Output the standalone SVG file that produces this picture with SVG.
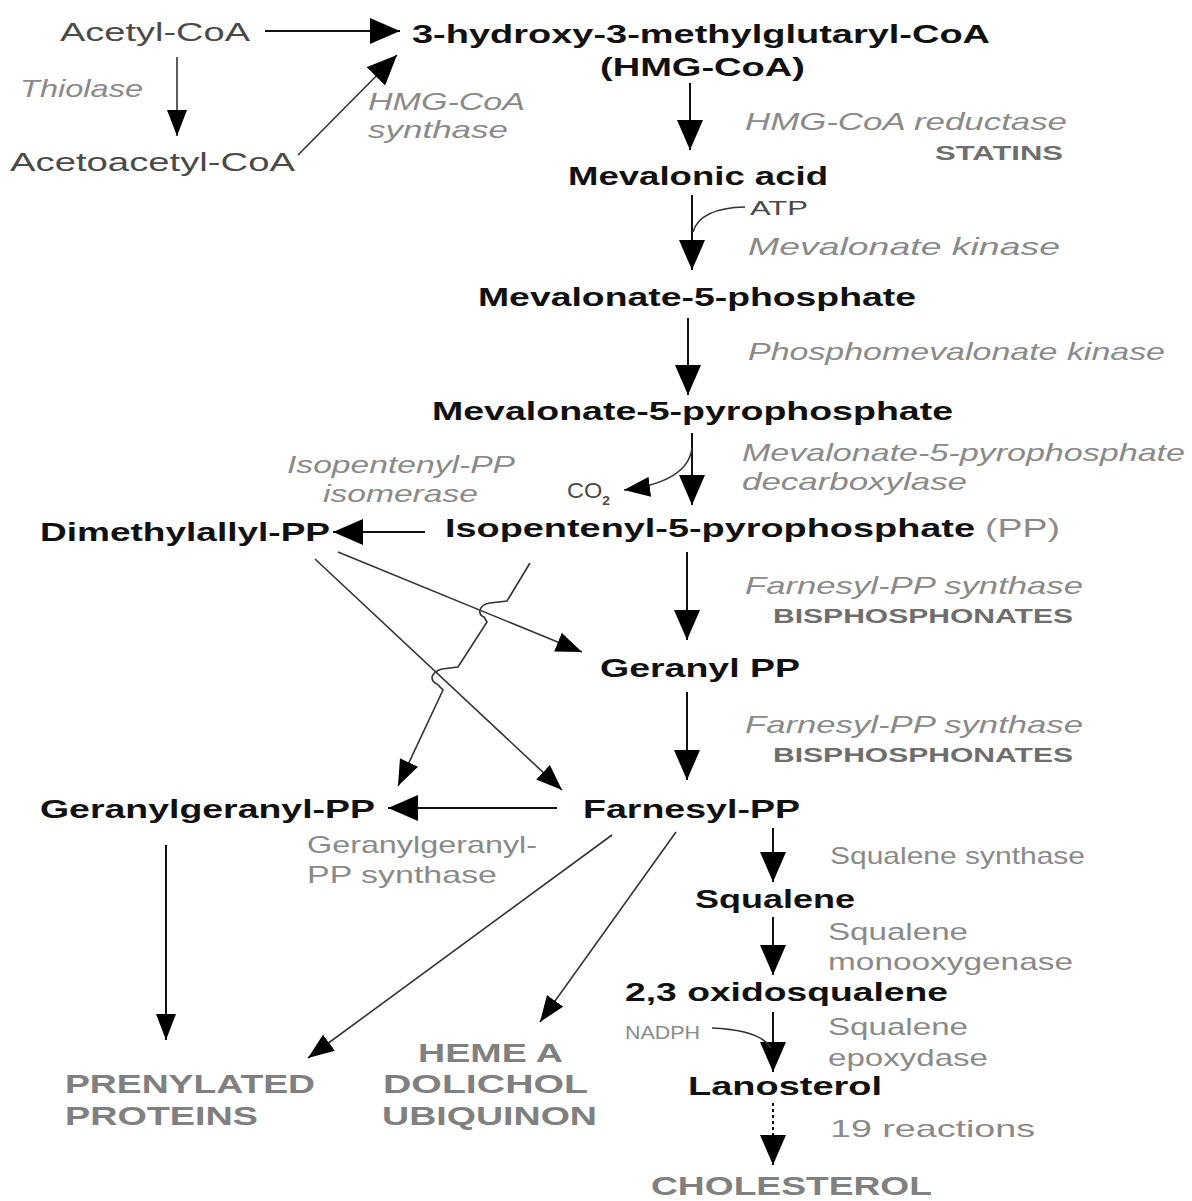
<svg xmlns="http://www.w3.org/2000/svg" width="1192" height="1201" viewBox="0 0 1192 1201">
<defs>
<style>
text{font-family:"Liberation Sans",Arial,sans-serif}
.b{font-weight:bold;font-size:26px;fill:#111}
.i{font-style:italic;font-size:24px;fill:#8a8a8a}
.g{font-size:24px;fill:#8a8a8a}
.gb{font-weight:bold;font-size:26px;fill:#808080}
.sb{font-weight:bold;font-size:21px;fill:#6e6e6e}
.d{font-size:26px;fill:#4a4a4a}
.ln{stroke:#111;stroke-width:2;fill:none}
.th{stroke:#333;stroke-width:1.6;fill:none}
</style>
<marker id="big" viewBox="0 0 30 26" refX="30" refY="13" markerWidth="30" markerHeight="26" orient="auto" markerUnits="userSpaceOnUse"><path d="M0,0 L30,13 L0,26 z" fill="#000"/></marker>
<marker id="sm" viewBox="0 0 26 20" refX="26" refY="10" markerWidth="26" markerHeight="20" orient="auto" markerUnits="userSpaceOnUse"><path d="M0,0 L26,10 L0,20 z" fill="#000"/></marker>
</defs>

<g id="connectors">
<line class="ln" x1="265" y1="31" x2="400" y2="31" marker-end="url(#big)"/>
<line class="th" x1="177" y1="57" x2="177" y2="136" marker-end="url(#sm)"/>
<line class="th" x1="298" y1="155" x2="397" y2="55" marker-end="url(#big)"/>
<line class="ln" x1="690" y1="83" x2="690" y2="150" marker-end="url(#big)"/>
<line class="ln" x1="692" y1="195" x2="692" y2="270" marker-end="url(#big)"/>
<path class="th" d="M693,232 Q700,208 745,207"/>
<line class="ln" x1="688" y1="318" x2="688" y2="395" marker-end="url(#big)"/>
<line class="ln" x1="692" y1="433" x2="692" y2="505" marker-end="url(#big)"/>
<path class="th" d="M692,448 Q688,482 624,490" marker-end="url(#sm)"/>
<line class="ln" x1="425" y1="532" x2="333" y2="532" marker-end="url(#big)"/>
<line class="ln" x1="687" y1="552" x2="687" y2="640" marker-end="url(#big)"/>
<line class="ln" x1="687" y1="692" x2="687" y2="780" marker-end="url(#big)"/>
<line class="th" x1="338" y1="552" x2="582" y2="652" marker-end="url(#sm)"/>
<line class="th" x1="315" y1="559" x2="562" y2="790" marker-end="url(#sm)"/>
<path class="th" d="M530,563 L507,601 L490,603 Q482,604 480,610 Q479,615 484,617 L487,622 L458,667 L442,669 Q434,671 432,677 Q432,682 437,684 L443,690 L398,786" marker-end="url(#sm)"/>
<line class="ln" x1="557" y1="808" x2="388" y2="808" marker-end="url(#big)"/>
<line class="ln" x1="166" y1="845" x2="166" y2="1040" marker-end="url(#sm)"/>
<line class="th" x1="612" y1="835" x2="308" y2="1058" marker-end="url(#sm)"/>
<line class="th" x1="676" y1="832" x2="540" y2="1022" marker-end="url(#sm)"/>
<line class="ln" x1="773" y1="828" x2="773" y2="882" marker-end="url(#big)"/>
<line class="ln" x1="773" y1="917" x2="773" y2="975" marker-end="url(#big)"/>
<line class="ln" x1="773" y1="1012" x2="773" y2="1072" marker-end="url(#big)"/>
<path class="th" d="M712,1028 Q760,1030 771,1048"/>
<line class="ln" x1="773" y1="1103" x2="773" y2="1165" stroke-dasharray="3,3" marker-end="url(#big)"/>
</g>

<g id="acetyl-coa"><text class="d" x="60" y="41" textLength="190" lengthAdjust="spacingAndGlyphs">Acetyl-CoA</text></g>
<g id="thiolase"><text class="i" x="20" y="97" textLength="123" lengthAdjust="spacingAndGlyphs">Thiolase</text></g>
<g id="acetoacetyl-coa"><text class="d" x="10" y="171" textLength="285" lengthAdjust="spacingAndGlyphs">Acetoacetyl-CoA</text></g>
<g id="hmg-synthase">
<text class="i" x="368" y="110" textLength="157" lengthAdjust="spacingAndGlyphs">HMG-CoA</text>
<text class="i" x="368" y="138" textLength="140" lengthAdjust="spacingAndGlyphs">synthase</text>
</g>
<g id="hmg-coa">
<text class="b" x="412" y="43" textLength="578" lengthAdjust="spacingAndGlyphs">3-hydroxy-3-methylglutaryl-CoA</text>
<text class="b" x="600" y="76" textLength="205" lengthAdjust="spacingAndGlyphs">(HMG-CoA)</text>
</g>
<g id="hmg-reductase">
<text class="i" x="745" y="130" textLength="322" lengthAdjust="spacingAndGlyphs">HMG-CoA reductase</text>
<text class="sb" x="935" y="160" textLength="128" lengthAdjust="spacingAndGlyphs">STATINS</text>
</g>
<g id="mevalonic-acid"><text class="b" x="568" y="185" textLength="260" lengthAdjust="spacingAndGlyphs">Mevalonic acid</text></g>
<g id="atp"><text class="d" style="font-size:20px" x="750" y="215" textLength="58" lengthAdjust="spacingAndGlyphs">ATP</text></g>
<g id="mevalonate-kinase"><text class="i" x="748" y="255" textLength="312" lengthAdjust="spacingAndGlyphs">Mevalonate kinase</text></g>
<g id="mevalonate-5-phosphate"><text class="b" x="478" y="306" textLength="438" lengthAdjust="spacingAndGlyphs">Mevalonate-5-phosphate</text></g>
<g id="phosphomevalonate-kinase"><text class="i" x="748" y="360" textLength="417" lengthAdjust="spacingAndGlyphs">Phosphomevalonate kinase</text></g>
<g id="mevalonate-5-pyrophosphate"><text class="b" x="432" y="420" textLength="521" lengthAdjust="spacingAndGlyphs">Mevalonate-5-pyrophosphate</text></g>
<g id="decarboxylase">
<text class="i" x="742" y="461" textLength="443" lengthAdjust="spacingAndGlyphs">Mevalonate-5-pyrophosphate</text>
<text class="i" x="742" y="490" textLength="225" lengthAdjust="spacingAndGlyphs">decarboxylase</text>
</g>
<g id="co2"><text class="d" style="font-size:22px" x="567" y="498" textLength="43" lengthAdjust="spacingAndGlyphs">CO<tspan style="font-size:13px;font-weight:bold" dy="7">2</tspan></text></g>
<g id="isomerase">
<text class="i" x="287" y="473" textLength="228" lengthAdjust="spacingAndGlyphs">Isopentenyl-PP</text>
<text class="i" x="323" y="502" textLength="155" lengthAdjust="spacingAndGlyphs">isomerase</text>
</g>
<g id="dimethylallyl-pp"><text class="b" x="40" y="541" textLength="290" lengthAdjust="spacingAndGlyphs">Dimethylallyl-PP</text></g>
<g id="isopentenyl-pp">
<text class="b" x="445" y="537" textLength="530" lengthAdjust="spacingAndGlyphs">Isopentenyl-5-pyrophosphate</text>
<text class="g" style="font-size:26px" x="985" y="537" textLength="75" lengthAdjust="spacingAndGlyphs">(PP)</text>
</g>
<g id="fpp-synthase-1">
<text class="i" x="745" y="594" textLength="338" lengthAdjust="spacingAndGlyphs">Farnesyl-PP synthase</text>
<text class="sb" x="773" y="623" textLength="300" lengthAdjust="spacingAndGlyphs">BISPHOSPHONATES</text>
</g>
<g id="geranyl-pp"><text class="b" x="600" y="677" textLength="200" lengthAdjust="spacingAndGlyphs">Geranyl PP</text></g>
<g id="fpp-synthase-2">
<text class="i" x="745" y="733" textLength="338" lengthAdjust="spacingAndGlyphs">Farnesyl-PP synthase</text>
<text class="sb" x="773" y="762" textLength="300" lengthAdjust="spacingAndGlyphs">BISPHOSPHONATES</text>
</g>
<g id="farnesyl-pp"><text class="b" x="583" y="818" textLength="217" lengthAdjust="spacingAndGlyphs">Farnesyl-PP</text></g>
<g id="geranylgeranyl-pp"><text class="b" x="40" y="818" textLength="335" lengthAdjust="spacingAndGlyphs">Geranylgeranyl-PP</text></g>
<g id="ggpp-synthase">
<text class="g" x="307" y="853" textLength="230" lengthAdjust="spacingAndGlyphs">Geranylgeranyl-</text>
<text class="g" x="307" y="883" textLength="190" lengthAdjust="spacingAndGlyphs">PP synthase</text>
</g>
<g id="squalene-synthase"><text class="g" x="830" y="864" textLength="255" lengthAdjust="spacingAndGlyphs">Squalene synthase</text></g>
<g id="squalene"><text class="b" x="695" y="908" textLength="160" lengthAdjust="spacingAndGlyphs">Squalene</text></g>
<g id="squalene-monooxygenase">
<text class="g" x="828" y="940" textLength="140" lengthAdjust="spacingAndGlyphs">Squalene</text>
<text class="g" x="828" y="970" textLength="245" lengthAdjust="spacingAndGlyphs">monooxygenase</text>
</g>
<g id="oxidosqualene"><text class="b" x="625" y="1001" textLength="323" lengthAdjust="spacingAndGlyphs">2,3 oxidosqualene</text></g>
<g id="nadph"><text class="g" style="font-size:19px" x="625" y="1039" textLength="75" lengthAdjust="spacingAndGlyphs">NADPH</text></g>
<g id="squalene-epoxydase">
<text class="g" x="828" y="1035" textLength="140" lengthAdjust="spacingAndGlyphs">Squalene</text>
<text class="g" x="828" y="1066" textLength="160" lengthAdjust="spacingAndGlyphs">epoxydase</text>
</g>
<g id="lanosterol"><text class="b" x="688" y="1095" textLength="194" lengthAdjust="spacingAndGlyphs">Lanosterol</text></g>
<g id="nineteen-reactions"><text class="g" x="830" y="1137" textLength="205" lengthAdjust="spacingAndGlyphs">19 reactions</text></g>
<g id="cholesterol"><text class="gb" x="651" y="1195" textLength="281" lengthAdjust="spacingAndGlyphs">CHOLESTEROL</text></g>
<g id="prenylated-proteins">
<text class="gb" x="65" y="1093" textLength="250" lengthAdjust="spacingAndGlyphs">PRENYLATED</text>
<text class="gb" x="65" y="1125" textLength="193" lengthAdjust="spacingAndGlyphs">PROTEINS</text>
</g>
<g id="heme-dolichol-ubiquinon">
<text class="gb" x="418" y="1062" textLength="145" lengthAdjust="spacingAndGlyphs">HEME A</text>
<text class="gb" x="383" y="1093" textLength="205" lengthAdjust="spacingAndGlyphs">DOLICHOL</text>
<text class="gb" x="382" y="1125" textLength="215" lengthAdjust="spacingAndGlyphs">UBIQUINON</text>
</g>
</svg>
